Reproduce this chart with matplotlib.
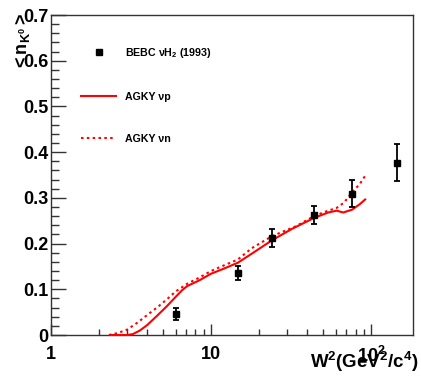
import matplotlib
matplotlib.use("Agg")
import matplotlib.pyplot as plt
from matplotlib.lines import Line2D
from matplotlib.ticker import FixedLocator, FixedFormatter, LogLocator, NullFormatter, MultipleLocator

plt.rcParams["font.family"] = ["Liberation Sans", "DejaVu Sans"]
plt.rcParams["font.weight"] = "bold"
plt.rcParams["mathtext.fontset"] = "custom"
plt.rcParams["mathtext.rm"] = "Liberation Sans:bold"
plt.rcParams["mathtext.it"] = "Liberation Sans:bold"
plt.rcParams["mathtext.bf"] = "Liberation Sans:bold"
plt.rcParams["mathtext.default"] = "regular"

# BEBC nu-H2 (1993) measurements
bebc_w2 = [6.0, 14.7, 24.0, 44.0, 76.0, 145.0]
bebc_nk0 = [0.045, 0.135, 0.212, 0.263, 0.309, 0.377]
bebc_err = [0.013, 0.015, 0.020, 0.020, 0.030, 0.041]

# AGKY model, nu-p
agky_p_w2 = [2.34, 2.6, 3.0, 3.25, 3.6, 4.0, 4.6, 5.3, 6.0, 6.6, 7.1, 8.5, 10.0,
             12.0, 14.7, 18.0, 24.0, 32.0, 44.0, 54.0, 61.0, 67.0, 76.0, 85.0, 93.0]
agky_p_nk0 = [0.0, 0.0, 0.0, 0.002, 0.01, 0.022, 0.042, 0.063, 0.083, 0.098, 0.107,
              0.12, 0.134, 0.145, 0.158, 0.178, 0.207, 0.232, 0.256, 0.268, 0.272,
              0.268, 0.274, 0.286, 0.298]

# AGKY model, nu-n
agky_n_w2 = [2.3, 2.6, 3.0, 3.5, 4.0, 4.6, 5.3, 6.0, 7.1, 8.5, 10.0, 12.0, 14.7,
             18.0, 24.0, 34.0, 44.0, 54.0, 61.0, 68.0, 76.0, 85.0, 93.0]
agky_n_nk0 = [0.0, 0.004, 0.012, 0.028, 0.044, 0.06, 0.078, 0.095, 0.112, 0.126,
              0.14, 0.152, 0.165, 0.19, 0.216, 0.238, 0.26, 0.272, 0.278, 0.29,
              0.312, 0.33, 0.351]

y_ticks = [0.0, 0.1, 0.2, 0.3, 0.4, 0.5, 0.6, 0.7]
y_tick_labels = ["0", "0.1", "0.2", "0.3", "0.4", "0.5", "0.6", "0.7"]
x_ticks = [1, 10, 100]
x_tick_labels = ["1", "10", "$10^{2}$"]

fig = plt.figure(figsize=(4.21, 3.77), dpi=100)
ax = fig.add_axes([51 / 421, 1 - 335 / 377, (413 - 51) / 421, (335 - 15) / 377])

# model curves sit above the frame so the zero segment stays visible
ax.plot(agky_p_w2, agky_p_nk0, color="#ff0000", lw=1.5, solid_capstyle="butt",
        zorder=3, clip_on=False)
ax.plot(agky_n_w2, agky_n_nk0, color="#ff0000", lw=1.5, ls=(0, (1.2, 1.6)),
        zorder=3, clip_on=False)
ax.errorbar(bebc_w2, bebc_nk0, yerr=bebc_err, fmt="s", color="black", ms=4.5,
            elinewidth=1.3, capsize=2.5, capthick=1.3, zorder=4)

ax.set_xscale("log")
ax.set_xlim(1, 183)
ax.set_ylim(0, 0.7)

ax.xaxis.set_major_locator(FixedLocator(x_ticks))
ax.xaxis.set_major_formatter(FixedFormatter(x_tick_labels))
ax.xaxis.set_minor_locator(LogLocator(base=10, subs=range(2, 10)))
ax.xaxis.set_minor_formatter(NullFormatter())
ax.yaxis.set_major_locator(FixedLocator(y_ticks))
ax.yaxis.set_major_formatter(FixedFormatter(y_tick_labels))
ax.yaxis.set_minor_locator(MultipleLocator(0.02))

ax.tick_params(which="both", direction="in", top=False, right=False,
               color="#333333", width=1.0)
ax.tick_params(axis="y", which="major", length=11, pad=2, labelsize=13)
ax.tick_params(axis="y", which="minor", length=6)
ax.tick_params(axis="x", which="major", length=8, pad=8, labelsize=13)
ax.tick_params(axis="x", which="minor", length=4)
for lbl in ax.get_xticklabels() + ax.get_yticklabels():
    lbl.set_fontweight("bold")
for sp in ax.spines.values():
    sp.set_color("#333333")
    sp.set_linewidth(1.0)

fig.text(22 / 421, 1 - 13 / 377, r"$<n_{K^{0}}>$", rotation=90, ha="center",
         va="top", fontsize=13)
fig.text(418 / 421, 1 - 362 / 377, r"$W^{2}(GeV^{2}/c^{4})$", ha="right",
         va="center", fontsize=13.5)

handles = [
    Line2D([], [], ls="none", marker="s", color="black", ms=4.5),
    Line2D([], [], color="#ff0000", lw=1.5),
    Line2D([], [], color="#ff0000", lw=1.5, ls=(0, (1.2, 1.6))),
]
labels = ["BEBC \u03bdH$_{2}$ (1993)", "AGKY \u03bdp", "AGKY \u03bdn"]
leg = ax.legend(handles, labels, loc="upper left",
                bbox_to_anchor=(81 / 421, 1 - 46 / 377),
                bbox_transform=fig.transFigure, frameon=False,
                prop={"size": 7.7, "weight": "bold"}, handlelength=3.3,
                handletextpad=0.8, labelspacing=3.0, borderpad=0,
                borderaxespad=0)

fig.savefig("out.png", dpi=100)
